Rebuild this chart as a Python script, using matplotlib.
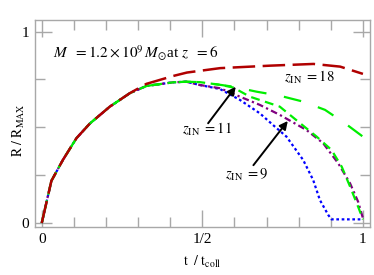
import numpy as np
import matplotlib
matplotlib.use("Agg")
import matplotlib.pyplot as plt
from matplotlib.ticker import FixedLocator

plt.rcParams['font.family'] = ['Liberation Serif', 'DejaVu Serif']
plt.rcParams['mathtext.fontset'] = 'stix'

# shared early expansion (all runs identical here)
t_rise = [0, 0.03, 0.066, 0.108, 0.15, 0.212, 0.274]
r_rise = [0, 0.22, 0.33, 0.443, 0.52, 0.608, 0.678]

# part shared by the green / purple / blue runs
t_core = [0.326, 0.409, 0.45]
r_core = [0.716, 0.735, 0.738]

# z_IN = 18 (dark red)
t_red = [0.326, 0.409, 0.452, 0.555, 0.711, 0.846, 0.929, 1.0]
r_red = [0.727, 0.768, 0.786, 0.809, 0.822, 0.831, 0.817, 0.779]

# upper green, long dashes
t_g1 = [0.492, 0.555, 0.596, 0.669, 0.741, 0.814, 0.882, 0.944, 1.0]
r_g1 = [0.736, 0.722, 0.712, 0.686, 0.665, 0.634, 0.591, 0.521, 0.451]

# z_IN = 11, green short dashes
t_g2 = [0.492, 0.555, 0.596, 0.648, 0.741, 0.856, 0.902, 0.934, 0.96, 0.985, 1.0]
r_g2 = [0.736, 0.722, 0.708, 0.66, 0.608, 0.451, 0.382, 0.294, 0.19, 0.085, 0.019]

# purple dash-dot
t_pu = [0.492, 0.555, 0.617, 0.679, 0.741, 0.824, 0.876, 0.923, 0.96, 0.985, 1.0]
r_pu = [0.721, 0.704, 0.66, 0.617, 0.565, 0.486, 0.417, 0.312, 0.207, 0.111, 0.025]

# blue dotted
t_bl = [0.492, 0.555, 0.617, 0.679, 0.72, 0.762, 0.814, 0.845, 0.866, 0.892, 0.902, 1.0]
r_bl = [0.721, 0.700, 0.643, 0.573, 0.512, 0.451, 0.329, 0.225, 0.12, 0.042, 0.019, 0.019]

fig = plt.figure(figsize=(3.74, 2.75), dpi=100)
ax = fig.add_axes([0.0936, 0.1745, 0.8957, 0.751])

def full(tail_t, tail_r, core=True):
    t = t_rise + (t_core if core else []) + tail_t
    r = r_rise + (r_core if core else []) + tail_r
    return t, r

x, y = full(t_bl, r_bl)
ax.plot(x, y, color='#0000ff', lw=1.6, dashes=(1.2, 1.2))
x, y = full(t_pu, r_pu)
ax.plot(x, y, color='#800080', lw=1.6, dashes=(3, 1.5, 1, 1.5))
x, y = full(t_g2, r_g2)
ax.plot(x, y, color='#00ee00', lw=1.6, dashes=(4, 2.5))
x, y = full(t_g1, r_g1)
ax.plot(x, y, color='#00ee00', lw=1.6, dashes=(8, 8))
x, y = full(t_red, r_red, core=False)
ax.plot(x, y, color='#b00000', lw=1.8, dashes=(9, 3))

ax.set_xlim(-0.021, 1.022)
ax.set_ylim(-0.021, 1.058)

grey = '#a8a8a8'
for s in ax.spines.values():
    s.set_color(grey)
    s.set_linewidth(1.0)

ax.xaxis.set_major_locator(FixedLocator([0, 0.5, 1]))
ax.xaxis.set_minor_locator(FixedLocator([0.1, 0.2, 0.3, 0.4, 0.6, 0.7, 0.8, 0.9]))
ax.set_xticklabels(['0', '1/2', '1'])
ax.yaxis.set_major_locator(FixedLocator([0, 1]))
ax.yaxis.set_minor_locator(FixedLocator([0.25, 0.5, 0.75]))
ax.set_yticklabels(['0', '1'])
ax.tick_params(which='both', direction='in', top=True, right=True, color=grey,
               width=1.0, labelsize=11, pad=4)
ax.tick_params(which='major', length=12)
ax.tick_params(which='minor', length=7)

ax.set_xlabel(r'$\mathrm{t\ \ /\ t_{coll}}$', fontsize=10, labelpad=6)
ax.set_ylabel(r'$\mathrm{R\ /\ R_{MAX}}$', fontsize=10)
ax.yaxis.set_label_coords(-0.025, 0.47)

ax.text(0.035, 0.889, r'$M\ \ = 1.2\times 10^{9}\,M_{\odot}$at $z\ \ = 6$',
        fontsize=11, ha='left', va='center')
ax.text(0.753, 0.76, r'$z_{\rm IN}\ = 18$', fontsize=10.5, ha='left', va='center')
ax.text(0.436, 0.49, r'$z_{\rm IN}\ = 11$', fontsize=10.5, ha='left', va='center')
ax.text(0.570, 0.25, r'$z_{\rm IN}\ = 9$', fontsize=10.5, ha='left', va='center')

arrow = dict(arrowstyle='-|>', color='k', lw=1.4, mutation_scale=12,
             shrinkA=0, shrinkB=0)
ax.annotate('', xy=(0.604, 0.712), xytext=(0.518, 0.521), arrowprops=arrow)
ax.annotate('', xy=(0.766, 0.533), xytext=(0.659, 0.302), arrowprops=arrow)

fig.savefig('out.png', dpi=100)
